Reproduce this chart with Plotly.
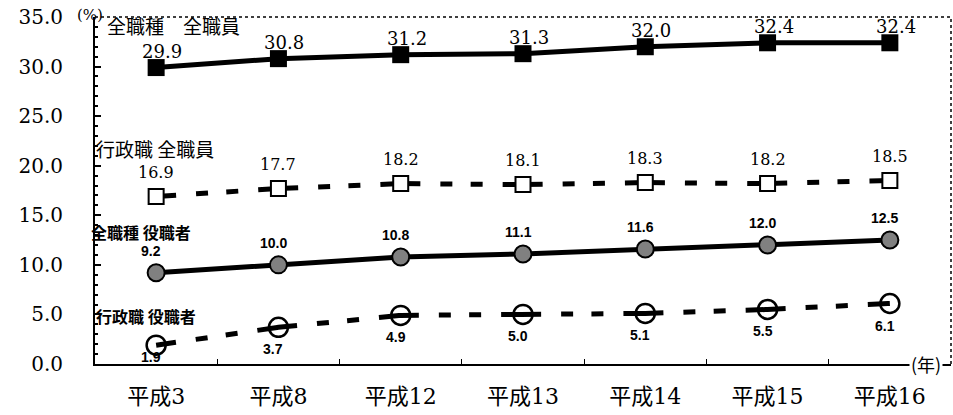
import plotly.graph_objects as go

# ---- data ----
years = ["平成3", "平成8", "平成12", "平成13", "平成14", "平成15", "平成16"]
all_jobs_all_staff = [29.9, 30.8, 31.2, 31.3, 32.0, 32.4, 32.4]   # 全職種 全職員
admin_all_staff = [16.9, 17.7, 18.2, 18.1, 18.3, 18.2, 18.5]      # 行政職 全職員
all_jobs_managers = [9.2, 10.0, 10.8, 11.1, 11.6, 12.0, 12.5]     # 全職種 役職者
admin_managers = [1.9, 3.7, 4.9, 5.0, 5.1, 5.5, 6.1]              # 行政職 役職者
series_names = ["全職種　全職員", "行政職 全職員", "全職種 役職者", "行政職 役職者"]
y_tick_values = [0, 5, 10, 15, 20, 25, 30, 35]

# ---- layout constants ----
W, H = 953, 415
ML, MR, MT, MB = 95, 2, 17, 51
plot_w = W - ML - MR
step = plot_w / len(years)
SERIF = "DejaVu Serif, Noto Sans CJK JP, serif"
SANS = "Liberation Sans, Noto Sans CJK JP, sans-serif"
CJK = "Noto Sans CJK JP, sans-serif"

rest = step - (20 + 20 + 12 + 20 + 12 + 20 + 20)
dash_pattern = f"20px,20px,12px,{rest + 20:.2f}px,12px,20px,20px,0px"
# symmetric pattern: long dash around each marker, two short dashes between

fig = go.Figure()

fig.add_trace(go.Scatter(
    x=years, y=all_jobs_all_staff, mode="lines+markers",
    line=dict(color="black", width=5),
    marker=dict(symbol="square", size=17, color="black"),
    name=series_names[0], cliponaxis=False))

fig.add_trace(go.Scatter(
    x=years, y=admin_all_staff, mode="lines+markers",
    line=dict(color="black", width=5, dash=dash_pattern),
    marker=dict(symbol="square", size=15, color="white",
                line=dict(color="black", width=2)),
    name=series_names[1], cliponaxis=False))

fig.add_trace(go.Scatter(
    x=years, y=all_jobs_managers, mode="lines+markers",
    line=dict(color="black", width=5),
    marker=dict(symbol="circle", size=17, color="#808080",
                line=dict(color="black", width=2)),
    name=series_names[2], cliponaxis=False))

fig.add_trace(go.Scatter(
    x=years, y=admin_managers, mode="lines+markers",
    line=dict(color="black", width=5, dash=dash_pattern),
    marker=dict(symbol="circle-open", size=19, color="black",
                line=dict(width=2.5)),
    name=series_names[3], cliponaxis=False))

# ---- value labels ----
annotations = []
label_styles = [
    (all_jobs_all_staff, dict(family=SERIF, size=18, color="black"), 16, 6, False),
    (admin_all_staff, dict(family=SERIF, size=16, color="black"), 24, 0, False),
    (all_jobs_managers, dict(family=SANS, size=14, color="black"), 22, -5, True),
    (admin_managers, dict(family=SANS, size=14, color="black"), -22, -5, True),
]
for vals, font, dy, dx, bold in label_styles:
    for cat, v in zip(years, vals):
        txt = f"{v:.1f}"
        if bold:
            txt = f"<b>{txt}</b>"
        shift = dy
        if dy < 0 and v < 3:
            shift = -12
        annotations.append(dict(
            x=cat, y=v, xref="x", yref="y", text=txt, showarrow=False,
            font=font, xshift=dx, yshift=shift, borderpad=0,
            xanchor="center", yanchor="middle"))

# ---- series name labels ----
def px_to_paper_x(px):
    return (px - ML) / plot_w

name_pos = [
    (106, 34.1, 19, False),
    (95, 21.7, 19, False),
    (90, 13.3, 16, True),
    (95, 4.85, 16, True),
]
for name, (px, yv, size, bold) in zip(series_names, name_pos):
    annotations.append(dict(
        x=px_to_paper_x(px), y=yv, xref="paper", yref="y",
        text=f"<b>{name}</b>" if bold else name, showarrow=False,
        font=dict(family=CJK, size=size, color="black"), borderpad=0,
        xanchor="left", yanchor="middle"))

# unit labels
annotations.append(dict(
    x=px_to_paper_x(90), y=1.0, xref="paper", yref="paper", text="(%)",
    showarrow=False, font=dict(family=SERIF, size=15, color="black"),
    xanchor="center", yanchor="middle", yshift=2))
annotations.append(dict(
    x=px_to_paper_x(926), y=0, xref="paper", yref="paper", text="(年)",
    showarrow=False, font=dict(family=CJK, size=18, color="black"),
    xanchor="center", yanchor="middle", bgcolor="white"))

shapes = [
    dict(type="line", xref="paper", yref="paper", x0=0, x1=1, y0=1, y1=1,
         line=dict(color="black", width=1.5, dash="dot")),
    dict(type="line", xref="paper", yref="paper", x0=1, x1=1, y0=0, y1=1,
         line=dict(color="black", width=1.5, dash="dot")),
]

fig.update_layout(
    width=W, height=H,
    margin=dict(l=ML, r=MR, t=MT, b=MB, pad=0),
    paper_bgcolor="white", plot_bgcolor="white",
    showlegend=False,
    annotations=annotations,
    shapes=shapes,
    xaxis=dict(
        type="category", range=[-0.5, len(years) - 0.5],
        showline=True, linecolor="black", linewidth=2,
        ticks="inside", tickson="boundaries", ticklen=5, tickcolor="black",
        tickfont=dict(family=SERIF, size=22, color="black"),
        ticklabelstandoff=12,
        showgrid=False, zeroline=False, fixedrange=True),
    yaxis=dict(
        range=[0, 35], tickvals=y_tick_values, tickformat=".1f",
        showline=True, linecolor="black", linewidth=2,
        ticks="inside", ticklen=6, tickcolor="black", tickwidth=1.5,
        minor=dict(dtick=1, ticks="inside", ticklen=3, tickcolor="black"),
        tickfont=dict(family=SERIF, size=20, color="black"),
        ticklabelstandoff=26,
        showgrid=False, zeroline=False, fixedrange=True),
)

fig.write_html("out.html", config={"displayModeBar": False},
               post_script="document.body.style.margin='0';")
